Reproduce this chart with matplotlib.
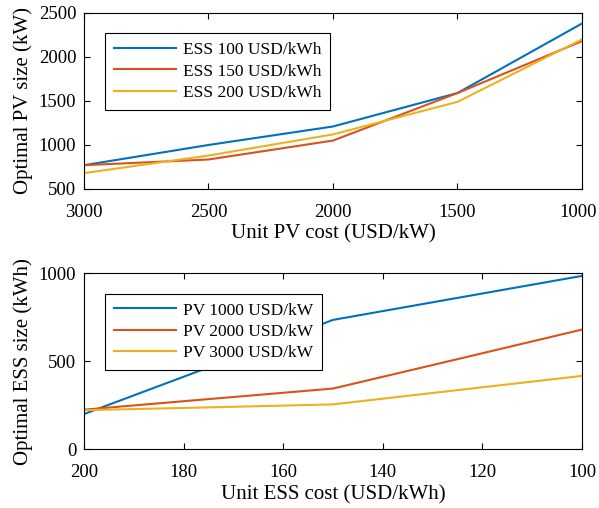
import matplotlib.pyplot as plt
from matplotlib.transforms import ScaledTranslation

# Top panel: optimal PV size vs unit PV cost
pv_cost = [3000, 2500, 2000, 1500, 1000]
pv_ess100 = [770, 1000, 1210, 1590, 2380]
pv_ess150 = [770, 835, 1050, 1590, 2180]
pv_ess200 = [680, 880, 1120, 1490, 2200]
pv_labels = ['ESS 100 USD/kWh', 'ESS 150 USD/kWh', 'ESS 200 USD/kWh']

# Bottom panel: optimal ESS size vs unit ESS cost
ess_cost = [200, 175, 150, 125, 100]
ess_pv1000 = [200, 465, 735, 860, 985]
ess_pv2000 = [225, 285, 345, 512, 680]
ess_pv3000 = [222, 238, 255, 336, 417]
ess_labels = ['PV 1000 USD/kW', 'PV 2000 USD/kW', 'PV 3000 USD/kW']

colors = ['#0072BD', '#D95319', '#EDB120']

plt.rcParams['font.family'] = ['Liberation Serif', 'DejaVu Serif']

fig = plt.figure(figsize=(5.99, 5.08), dpi=100)
ax1 = fig.add_axes([0.1402, 0.628, 0.8314, 0.3465])
ax2 = fig.add_axes([0.1402, 0.1156, 0.8314, 0.3465])


def style_axes(ax):
    ax.tick_params(direction='in', top=True, right=True, length=4,
                   width=0.8, labelsize=13.5)
    ax.tick_params(axis='x', pad=10.5)
    ax.tick_params(axis='y', pad=5.5)
    for s in ax.spines.values():
        s.set_linewidth(0.8)


def add_legend(ax):
    leg = ax.legend(loc='upper left', bbox_to_anchor=(0.042, 0.884), fontsize=12.5,
                    fancybox=False, edgecolor='black', framealpha=1,
                    borderaxespad=0, handlelength=3.6, handletextpad=0.4,
                    borderpad=0.5, labelspacing=0.3)
    leg.get_frame().set_linewidth(0.8)


for ys, lab, c in zip([pv_ess100, pv_ess150, pv_ess200], pv_labels, colors):
    ax1.plot(pv_cost, ys, color=c, lw=1.5, label=lab)
ax1.set_xlim(3000, 1000)
ax1.set_ylim(500, 2500)
ax1.set_xticks([3000, 2500, 2000, 1500, 1000])
ax1.set_yticks([500, 1000, 1500, 2000, 2500])
ax1.set_xlabel('Unit PV cost (USD/kW)', fontsize=15, labelpad=3)
ax1.set_ylabel('Optimal PV size (kW)', fontsize=15, labelpad=4)
style_axes(ax1)
add_legend(ax1)

# nudge the last tick label a little so it stays inside the figure
last = ax1.xaxis.get_major_ticks()[-1].label1
last.set_transform(last.get_transform() + ScaledTranslation(-0.035, 0, fig.dpi_scale_trans))

for ys, lab, c in zip([ess_pv1000, ess_pv2000, ess_pv3000], ess_labels, colors):
    ax2.plot(ess_cost, ys, color=c, lw=1.5, label=lab)
ax2.set_xlim(200, 100)
ax2.set_ylim(0, 1000)
ax2.set_xticks([200, 180, 160, 140, 120, 100])
ax2.set_yticks([0, 500, 1000])
ax2.set_xlabel('Unit ESS cost (USD/kWh)', fontsize=15, labelpad=3)
ax2.set_ylabel('Optimal ESS size (kWh)', fontsize=15, labelpad=4)
style_axes(ax2)
add_legend(ax2)

fig.savefig('out.png', dpi=100)
